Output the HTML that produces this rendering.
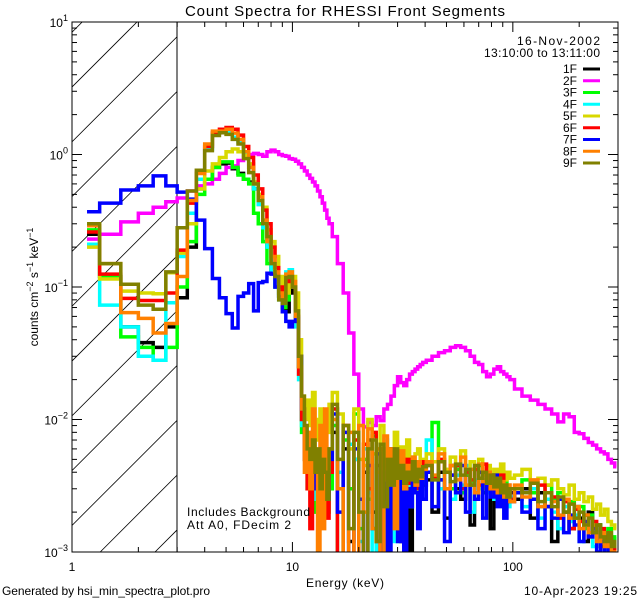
<!DOCTYPE html>
<html><head><meta charset="utf-8"><style>
html,body{margin:0;padding:0;background:#fff}
svg{display:block;font-family:"Liberation Sans","DejaVu Sans",sans-serif}
</style></head><body>
<svg id="chart" width="640" height="600" viewBox="0 0 640 600">
<defs><clipPath id="plotclip"><rect x="72" y="22" width="546" height="530"/></clipPath>
<clipPath id="hatchclip"><rect x="72" y="22" width="105" height="530"/></clipPath></defs>
<rect x="0" y="0" width="640" height="600" fill="#fff"/>
<text x="345" y="16" text-anchor="middle" font-size="15" textLength="320">Count Spectra for RHESSI Front Segments</text>
<g id="hatch" clip-path="url(#hatchclip)"></g>
<line x1="177" y1="22" x2="177" y2="552" stroke="#000" stroke-width="1"/>
<g id="series" clip-path="url(#plotclip)"></g>
<rect x="72" y="22" width="546" height="530" fill="none" stroke="#000" stroke-width="1"/>
<g id="axes"></g>
<text x="600" y="45" text-anchor="end" font-size="12" textLength="83">16-Nov-2002</text>
<text x="600" y="57" text-anchor="end" font-size="12" textLength="116">13:10:00 to 13:11:00</text>
<g id="legend"></g>
<text x="187" y="516" font-size="12" textLength="123">Includes Background</text>
<text x="187" y="529" font-size="12" textLength="104">Att A0, FDecim 2</text>
<text x="345" y="587" text-anchor="middle" font-size="12" textLength="78">Energy (keV)</text>
<text transform="translate(38,287) rotate(-90)" text-anchor="middle" font-size="12">counts cm<tspan dy="-5" font-size="9">−2</tspan><tspan dy="5"> s</tspan><tspan dy="-5" font-size="9">−1</tspan><tspan dy="5"> keV</tspan><tspan dy="-5" font-size="9">−1</tspan></text>
<text x="2" y="595" font-size="12" textLength="208">Generated by hsi_min_spectra_plot.pro</text>
<text x="637" y="595" text-anchor="end" font-size="12" textLength="113">10-Apr-2023 19:25</text>
</svg>
<script>
const energies=[1.17,1.5,1.83,2.17,2.5,2.83,3.17,3.5,3.83,4.17,4.5,4.83,5.17,5.5,5.83,6.17,6.5,6.83,7.17,7.5,7.83,8.17,8.5,8.83,9.17,9.5,9.83,10.17,10.5,10.83,11.17,11.5,11.83,12.17,12.5,12.83,13.17,13.5,13.83,14.17,14.5,14.83,
15.5,16.5,17.5,18.5,19.5,20.5,21.5,22.5,23.5,24.5,25.5,26.5,27.5,28.5,29.5,30.5,31.5,32.5,33.5,34.5,35.5,36.5,37.5,38.5,39.5,
41.5,44.5,47.5,50.5,53.5,56.5,59.5,62.5,65.5,68.5,71.5,74.5,77.5,80.5,83.5,86.5,89.5,92.5,95.5,98.5,
105,115,125,135,145,155,165,175,185,195,205,215,225,235,245,255,265,275,285,295];
const seriesNames=["1F","2F","3F","4F","5F","6F","7F","8F","9F"];
const seriesColors=["#000000","#ff00ff","#00ff00","#00ffff","#d8d800","#ff0000","#0000ff","#ff8000","#808000"];
const s1F=[0.25,0.12,0.05,0.038,0.035,0.05,0.083,0.2,0.55,0.65,0.8,0.85,0.86,0.78,0.72,0.65,0.62,0.55,0.42,0.28,0.2,0.13,0.1,0.085,0.07,0.065,0.1,0.09,0.06,0.025,0.01,0.006,0.004,0.003,0.0025,0.004,0.002,0.003,0.0035,0.002,0.004,0.003,
0.008,0.003,0.006,0.0012,0.005,0.0008,0.004,0.007,0.002,0.0045,0.0009,0.004,0.006,0.0018,0.005,0.0025,0.0012,0.005,0.0035,0.0009,0.004,0.003,0.0028,0.0045,0.0032,
0.0035,0.002,0.004,0.0018,0.0045,0.003,0.0025,0.0038,0.0016,0.0042,0.003,0.0028,0.0035,0.0015,0.003,0.0025,0.0032,0.0022,0.003,0.0028,
0.0025,0.003,0.0018,0.0028,0.0022,0.0012,0.0025,0.002,0.0015,0.0022,0.0018,0.0012,0.002,0.0014,0.0016,0.0011,0.0013,0.0012,0.0009,0.001];
const s2F=[0.23,0.25,0.31,0.36,0.4,0.44,0.47,0.53,0.58,0.6,0.65,0.72,0.8,0.82,0.9,0.95,1.0,1.02,1.0,0.97,1.05,1.08,1.05,1.0,0.98,0.97,0.93,0.92,0.89,0.85,0.8,0.75,0.7,0.66,0.62,0.58,0.53,0.48,0.43,0.38,0.33,0.3,
0.24,0.15,0.09,0.045,0.022,0.012,0.0088,0.0095,0.009,0.0105,0.0098,0.012,0.013,0.015,0.018,0.021,0.019,0.018,0.02,0.022,0.023,0.024,0.025,0.026,0.027,
0.028,0.03,0.032,0.033,0.035,0.036,0.035,0.033,0.03,0.027,0.026,0.023,0.021,0.022,0.024,0.025,0.023,0.022,0.021,0.02,
0.017,0.015,0.014,0.013,0.012,0.011,0.0096,0.011,0.0105,0.008,0.0078,0.0072,0.0067,0.0064,0.006,0.0057,0.0055,0.005,0.0047,0.0044];
const s3F=[0.27,0.12,0.042,0.035,0.028,0.035,0.1,0.22,0.5,0.65,0.8,0.88,0.88,0.8,0.7,0.65,0.6,0.36,0.3,0.22,0.15,0.13,0.13,0.09,0.07,0.08,0.11,0.1,0.055,0.025,0.008,0.005,0.003,0.004,0.002,0.005,0.003,0.002,0.004,0.003,0.002,0.003,
0.009,0.0008,0.007,0.003,0.011,0.0015,0.005,0.0025,0.0075,0.0009,0.0045,0.006,0.002,0.0055,0.0025,0.006,0.0034,0.004,0.0028,0.0038,0.0045,0.0032,0.0036,0.003,0.0042,
0.004,0.0095,0.0035,0.004,0.003,0.0042,0.0028,0.0038,0.0034,0.0025,0.0045,0.003,0.0036,0.0028,0.0033,0.0037,0.003,0.0035,0.0028,0.003,
0.003,0.0035,0.0028,0.0022,0.0032,0.0025,0.0028,0.002,0.0024,0.0018,0.0022,0.0015,0.0019,0.0014,0.0016,0.0013,0.0012,0.0015,0.0011,0.0013];
const s4F=[0.21,0.073,0.05,0.03,0.028,0.076,0.17,0.36,0.65,1.1,1.45,1.5,1.48,1.35,1.25,1.0,0.8,0.55,0.42,0.28,0.2,0.13,0.1,0.08,0.075,0.13,0.135,0.1,0.05,0.02,0.009,0.005,0.004,0.003,0.005,0.0025,0.003,0.004,0.002,0.003,0.0025,0.004,
0.012,0.004,0.0009,0.0065,0.005,0.0012,0.006,0.0028,0.0008,0.0055,0.0032,0.007,0.0015,0.004,0.0012,0.0038,0.0048,0.003,0.0042,0.0022,0.0035,0.004,0.0028,0.0033,0.0038,
0.007,0.0035,0.003,0.0042,0.0025,0.0038,0.0032,0.0045,0.002,0.0035,0.003,0.0038,0.0028,0.0032,0.0025,0.0035,0.0028,0.003,0.0022,0.0026,
0.0028,0.0022,0.003,0.0018,0.0025,0.002,0.0015,0.0022,0.0017,0.0019,0.0012,0.0016,0.0014,0.0011,0.0015,0.0012,0.0009,0.0011,0.001,0.0008];
const s5F=[0.2,0.115,0.093,0.09,0.089,0.128,0.18,0.3,0.55,0.75,0.85,0.95,1.05,1.1,1.05,0.98,0.85,0.62,0.5,0.4,0.27,0.22,0.17,0.12,0.09,0.09,0.11,0.12,0.09,0.04,0.015,0.01,0.014,0.009,0.016,0.01,0.007,0.012,0.006,0.011,0.008,0.013,
0.016,0.011,0.008,0.006,0.012,0.005,0.0045,0.01,0.0055,0.004,0.009,0.0048,0.0058,0.0042,0.008,0.005,0.0062,0.0045,0.007,0.0052,0.0048,0.0055,0.006,0.0045,0.005,
0.0055,0.0048,0.006,0.0042,0.0052,0.0045,0.0058,0.004,0.0048,0.0042,0.005,0.0038,0.0045,0.0036,0.0042,0.0038,0.0046,0.0035,0.004,0.0036,
0.0038,0.0042,0.0034,0.0036,0.0032,0.0035,0.003,0.0027,0.0032,0.0025,0.0028,0.0024,0.0026,0.0021,0.0023,0.0019,0.0021,0.0017,0.0016,0.0015];
const s6F=[0.26,0.125,0.082,0.079,0.079,0.09,0.19,0.43,0.72,1.15,1.45,1.55,1.6,1.55,1.4,1.15,0.95,0.7,0.55,0.38,0.3,0.2,0.14,0.1,0.085,0.11,0.12,0.1,0.055,0.022,0.01,0.005,0.003,0.0015,0.006,0.004,0.003,0.005,0.002,0.004,0.0018,0.004,
0.012,0.0006,0.009,0.0008,0.007,0.0005,0.0065,0.003,0.008,0.0012,0.006,0.0025,0.005,0.0018,0.0055,0.0035,0.004,0.0028,0.005,0.0033,0.0038,0.0045,0.003,0.0042,0.0048,
0.0045,0.0036,0.005,0.004,0.0038,0.0045,0.003,0.004,0.0035,0.0042,0.0032,0.0046,0.003,0.0038,0.0028,0.0034,0.0038,0.0028,0.0032,0.0025,
0.003,0.0028,0.0025,0.0032,0.0022,0.0026,0.0018,0.0024,0.0015,0.0021,0.0017,0.0019,0.0013,0.0017,0.0012,0.0015,0.0011,0.0013,0.001,0.0011];
const s7F=[0.37,0.43,0.54,0.58,0.69,0.58,0.52,0.46,0.32,0.195,0.116,0.083,0.063,0.049,0.085,0.09,0.106,0.066,0.108,0.11,0.127,0.125,0.1,0.086,0.065,0.055,0.05,0.055,0.058,0.03,0.012,0.008,0.005,0.004,0.006,0.003,0.005,0.002,0.004,0.003,0.0025,0.005,
0.011,0.002,0.008,0.0006,0.006,0.0025,0.0005,0.0045,0.0015,0.0055,0.0008,0.004,0.0007,0.0045,0.0025,0.0012,0.0035,0.0006,0.003,0.0022,0.0035,0.0028,0.0015,0.004,0.0025,
0.004,0.0022,0.0035,0.0012,0.0038,0.0028,0.0045,0.002,0.0032,0.0025,0.004,0.0018,0.0032,0.0026,0.0038,0.0022,0.003,0.0018,0.0028,0.0024,
0.0028,0.002,0.0025,0.0015,0.0022,0.0018,0.0025,0.0014,0.0019,0.0016,0.0012,0.0017,0.0013,0.0015,0.001,0.0012,0.0009,0.0011,0.0008,0.0009];
const s8F=[0.29,0.15,0.064,0.058,0.045,0.053,0.12,0.45,0.72,1.2,1.5,1.5,1.55,1.45,1.3,1.05,0.8,0.6,0.48,0.32,0.22,0.17,0.13,0.09,0.08,0.125,0.13,0.11,0.06,0.025,0.012,0.004,0.008,0.003,0.012,0.005,0.0008,0.009,0.0015,0.012,0.004,0.006,
0.01,0.003,0.0006,0.008,0.0005,0.009,0.002,0.0085,0.0015,0.006,0.0008,0.0075,0.0035,0.006,0.0015,0.0042,0.0058,0.003,0.0045,0.0038,0.0052,0.0032,0.0048,0.0036,0.0042,
0.0048,0.0038,0.0055,0.003,0.0045,0.0035,0.0052,0.0032,0.0042,0.0028,0.0046,0.0034,0.004,0.003,0.0036,0.0028,0.0034,0.0026,0.0032,0.0024,
0.0032,0.0026,0.0035,0.0022,0.0028,0.0024,0.0019,0.0025,0.0018,0.0022,0.0015,0.0019,0.0014,0.0016,0.0012,0.0014,0.0011,0.0012,0.0009,0.001];
const s9F=[0.3,0.15,0.105,0.073,0.068,0.13,0.28,0.53,0.76,1.07,1.39,1.46,1.42,1.3,1.2,0.93,0.73,0.6,0.45,0.3,0.24,0.15,0.12,0.08,0.075,0.118,0.12,0.1,0.066,0.03,0.015,0.009,0.006,0.005,0.007,0.004,0.006,0.003,0.005,0.004,0.0025,0.006,
0.013,0.005,0.009,0.0015,0.008,0.002,0.0007,0.006,0.007,0.0012,0.0065,0.0022,0.005,0.0032,0.006,0.0036,0.0045,0.0033,0.004,0.0035,0.0048,0.0034,0.0042,0.0037,0.0044,
0.0045,0.0035,0.0048,0.004,0.0034,0.0046,0.0038,0.0042,0.0032,0.0045,0.0036,0.004,0.0033,0.0038,0.0031,0.0036,0.0028,0.0032,0.0026,0.003,
0.003,0.0028,0.0033,0.0024,0.0028,0.0022,0.0026,0.002,0.0023,0.0018,0.002,0.0016,0.0018,0.0014,0.0016,0.0013,0.0012,0.0014,0.0011,0.0012];
const seriesValues=[s1F,s2F,s3F,s4F,s5F,s6F,s7F,s8F,s9F];
const xTickValues=[1,10,100];
const xTickLabels=["1","10","100"];
const yTickExponents=[1,0,-1,-2,-3];

const NS="http://www.w3.org/2000/svg";
const X0=72,X1=618,Y0=22,Y1=552;
const xMin=0,xMax=Math.log10(300),yMin=-3,yMax=1;
function xs(e){return X0+(Math.log10(e)-xMin)/(xMax-xMin)*(X1-X0);}
function ys(v){if(!(v>0))return 600;const y=Y1-(Math.log10(v)-yMin)/(yMax-yMin)*(Y1-Y0);return Math.min(y,600);}
function mk(tag,attrs,parent){const el=document.createElementNS(NS,tag);for(const k in attrs)el.setAttribute(k,attrs[k]);parent.appendChild(el);return el;}

const hatch=document.getElementById('hatch');
for(let k=-2;k<14;k++){
  const c=159+54.8*k;
  const l=mk('line',{x1:c-Y1,y1:Y1,x2:c-Y0,y2:Y0,stroke:'#000','stroke-width':0.8},hatch);
  
  
}

const sg=document.getElementById('series');
seriesValues.forEach((vals,si)=>{
  let d='';
  for(let i=0;i<energies.length;i++){
    const left=i===0?xs(energies[0]):xs((energies[i-1]+energies[i])/2);
    const right=i===energies.length-1?xs(energies[i]):xs((energies[i]+energies[i+1])/2);
    const y=ys(vals[i]);
    if(i===0)d+='M'+left.toFixed(2)+','+y.toFixed(2);
    else d+='V'+y.toFixed(2);
    d+='H'+right.toFixed(2);
  }
  const p=mk('path',{d:d,fill:'none',stroke:seriesColors[si],'stroke-width':3.5,'stroke-linejoin':'miter'},sg);
  
  
});

const ax=document.getElementById('axes');
for(let dec=0;dec<3;dec++){
  for(let m=1;m<10;m++){
    const e=m*Math.pow(10,dec);
    if(e>300)continue;
    const x=xs(e);
    const len=m===1?10:5;
    const t1=mk('line',{x1:x,y1:Y1,x2:x,y2:Y1-len,stroke:'#000','stroke-width':1},ax);
    
    
    const t2=mk('line',{x1:x,y1:Y0,x2:x,y2:Y0+len,stroke:'#000','stroke-width':1},ax);
    
    
  }
}
xTickValues.forEach((v,i)=>{
  const t=mk('text',{x:xs(v),y:571,'text-anchor':'middle','font-size':12},ax);
  t.textContent=xTickLabels[i];
  
  
});
for(let p=-3;p<1;p++){
  for(let m=1;m<10;m++){
    const v=m*Math.pow(10,p);
    const y=ys(v);
    const len=m===1?10:5;
    const a=mk('line',{x1:X0,y1:y,x2:X0+len,y2:y,stroke:'#000','stroke-width':1},ax);
    
    
    const b=mk('line',{x1:X1,y1:y,x2:X1-len,y2:y,stroke:'#000','stroke-width':1},ax);
    
    
  }
}
yTickExponents.forEach(ex=>{
  const y=ys(Math.pow(10,ex));
  const t=mk('text',{x:X0-4,y:y+5,'text-anchor':'end','font-size':12},ax);
  
  
  const a=document.createElementNS(NS,'tspan');a.textContent='10';t.appendChild(a);
  const b=document.createElementNS(NS,'tspan');b.setAttribute('dy','-6');b.setAttribute('font-size','9');
  b.textContent=ex<0?('−'+(-ex)):String(ex);t.appendChild(b);
});

const lg=document.getElementById('legend');
seriesNames.forEach((n,i)=>{
  const y=69+i*11.75;
  const t=mk('text',{x:577,y:y+4,'text-anchor':'end','font-size':12},lg);
  t.textContent=n;
  
  
  const l=mk('line',{x1:583,y1:y,x2:600,y2:y,stroke:seriesColors[i],'stroke-width':3},lg);
  
  
});
</script>
</body></html>
